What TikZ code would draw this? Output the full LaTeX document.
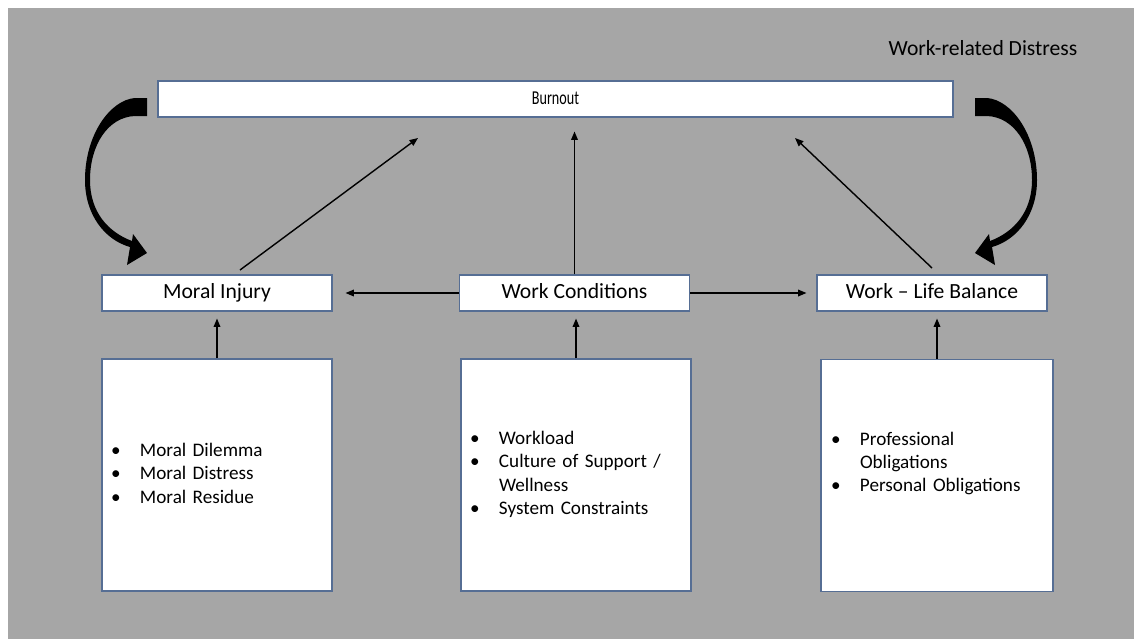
\documentclass[tikz,border=0pt]{standalone}
\usepackage{fontspec}
\setmainfont{Carlito}
\usepackage{graphicx}
\usetikzlibrary{arrows.meta,calc}
\definecolor{slidegrey}{RGB}{166,166,166}
\definecolor{boxline}{RGB}{86,110,148}

\begin{document}
\begin{tikzpicture}[
    arrow/.style={-{Triangle[length=4.8pt,width=3.8pt]}, line width=0.8pt},
    box/.style={draw=boxline, line width=0.6pt, fill=white, minimum width=4.6cm,
                minimum height=0.72cm, inner sep=0pt, text height=0.88em,
                text depth=0.28em, font=\fontsize{12.3}{14}\selectfont},
    listbox/.style={draw=boxline, line width=0.6pt, fill=white, minimum width=4.6cm,
                    minimum height=4.64cm, text width=4.24cm, inner xsep=0.18cm,
                    align=left, font=\fontsize{10.9}{13.3}\selectfont},
    curvedarrow/.pic={
      \fill (2.94,-1.96) -- (2.70,-1.96)
        .. controls (2.20,-2.00) and (1.70,-2.70) .. (1.70,-3.60)
        .. controls (1.70,-4.30) and (2.10,-4.80) .. (2.60,-4.94)
        -- (2.54,-5.30) -- (2.94,-5.06) -- (2.66,-4.68) -- (2.64,-4.82)
        .. controls (2.16,-4.64) and (1.80,-4.24) .. (1.80,-3.60)
        .. controls (1.80,-2.90) and (2.16,-2.34) .. (2.70,-2.32)
        -- (2.94,-2.32) -- cycle;
    },
]
\useasboundingbox (0,0) rectangle (22.68,-12.78);
\fill[slidegrey] (0.16,-0.16) rectangle (22.68,-12.78);

%% ── top row ──────────────────────────────────────────────────
\node[font=\fontsize{12.3}{14}\selectfont] (title) at (19.66,-0.96) {Work-related Distress};
\node[box, minimum width=15.9cm] (burnout) at (11.11,-1.98)
  {\scalebox{0.72}[1]{\fontsize{11.2}{13}\selectfont Burnout}};

\pic at (0,0) {curvedarrow};
\pic[xscale=-1] at (22.44,0) {curvedarrow};

%% ── middle row ───────────────────────────────────────────────
\node[box] (moral)    at (4.34,-5.86)  {Moral Injury};
\node[box] (workcond) at (11.49,-5.86) {Work Conditions};
\node[box] (balance)  at (18.64,-5.86) {Work – Life Balance};

\coordinate (mtail) at (4.80,-5.40);
\coordinate (mhead) at (8.36,-2.76);
\coordinate (btail) at (18.64,-5.36);
\coordinate (bhead) at (15.90,-2.76);

\draw[arrow] (mtail) -- (mhead);
\draw[arrow] (btail) -- (bhead);
\draw[arrow, shorten >=0.28cm] (workcond.north) -- (workcond.north |- burnout.south);
\draw[arrow, shorten >=0.26cm] (workcond.west) -- (moral.east);
\draw[arrow, shorten >=0.2cm]  (workcond.east) -- (balance.west);

%% ── bottom row ───────────────────────────────────────────────
\node[listbox] (mlist) at (4.34,-9.5) {%
  \begin{tabular}{@{}p{0.58cm}@{}l@{}}
    \textbullet & Moral Dilemma\\
    \textbullet & Moral Distress\\
    \textbullet & Moral Residue
  \end{tabular}};
\node[listbox] (clist) at (11.52,-9.5) {%
  \begin{tabular}{@{}p{0.58cm}@{}l@{}}
    \textbullet & Workload\\
    \textbullet & Culture of Support /\\
                & Wellness\\
    \textbullet & System Constraints
  \end{tabular}};
\node[listbox, minimum width=4.64cm] (blist) at (18.74,-9.51) {%
  \begin{tabular}{@{}p{0.58cm}@{}l@{}}
    \textbullet & Professional\\
                & Obligations\\
    \textbullet & Personal Obligations\\
                &
  \end{tabular}};

\draw[arrow, shorten >=0.14cm] (mlist.north) -- (mlist.north |- moral.south);
\draw[arrow, shorten >=0.14cm] (clist.north) -- (clist.north |- workcond.south);
\draw[arrow, shorten >=0.14cm] (blist.north) -- (blist.north |- balance.south);

\end{tikzpicture}
\end{document}
